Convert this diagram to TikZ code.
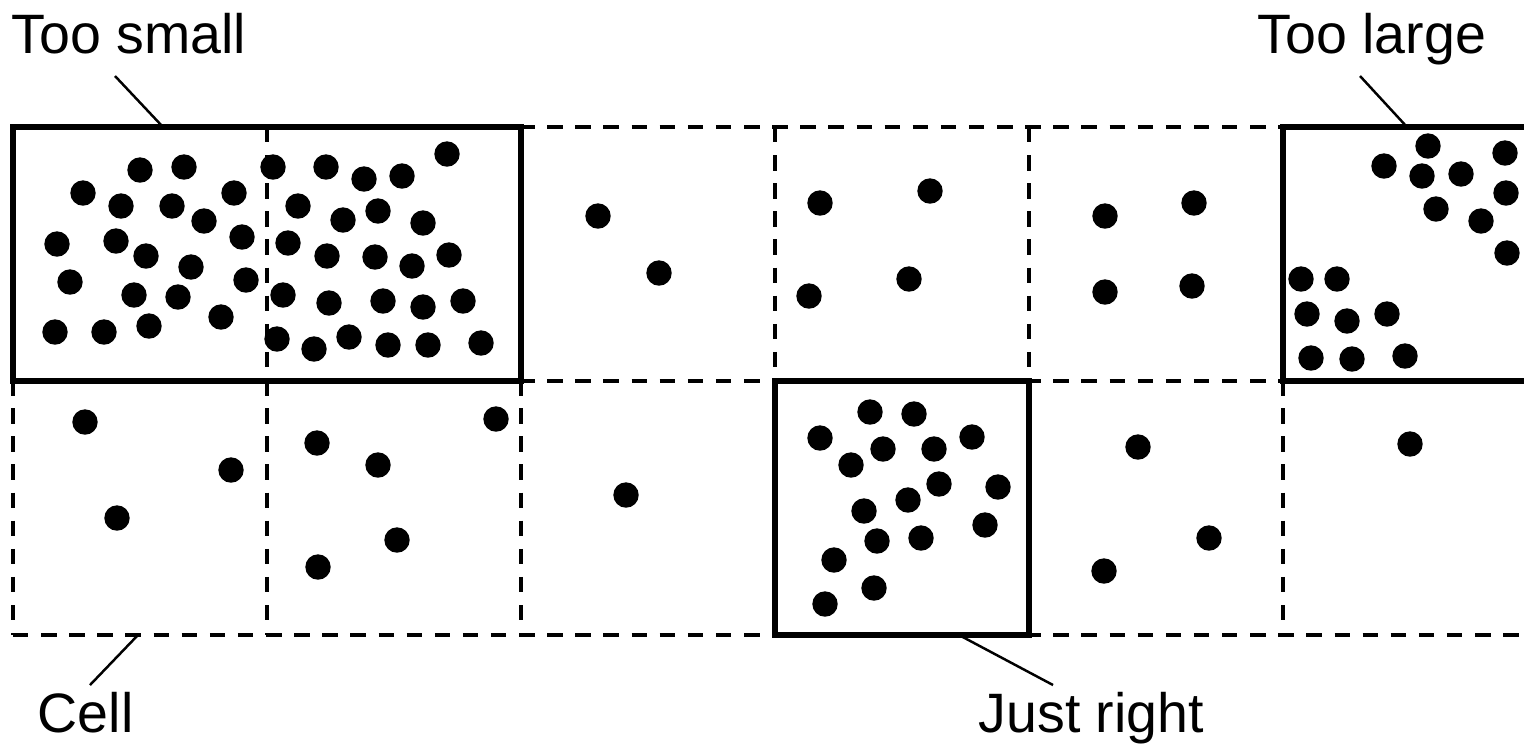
\documentclass[tikz,border=0pt]{standalone}
\usepackage{fontspec}
\setmainfont{Liberation Sans}

\begin{document}
\begin{tikzpicture}[
        x=0.1mm, y=-0.1mm,
        gridline/.style = {line width=0.95pt, dash pattern=on 4.4pt off 3.6pt},
        binbox/.style = {line width=1.65pt},
        leader/.style = {line width=0.7pt},
        particle/.style = {fill=black},
        tag/.style = {anchor=base west, inner sep=0pt, font=\fontsize{15.8}{19}\selectfont}
    ]

    \useasboundingbox (0,0) rectangle (1524,749);
    \clip (0,0) rectangle (1524,749);

    % dashed cells
    \foreach \x in {13,267,521,775,1029,1283}
        \draw[gridline] (\x,127) -- (\x,635);
    \foreach \y in {127,381,635}
        \draw[gridline] (13,\y) -- (1524,\y);

    % particles, top row
    \foreach \p in {(140,170),(184,167),(83,193),(121,206),(172,206),(234,193),(204,221),
                    (57,244),(116,241),(146,256),(242,237),(191,267),(70,282),(134,295),
                    (178,297),(246,280),(221,317),(55,332),(104,332),(149,326),
                    (273,167),(326,167),(364,179),(402,176),(447,154),(298,206),(343,220),
                    (378,211),(423,223),(288,243),(327,256),(375,257),(412,266),(449,255),
                    (283,295),(329,303),(383,301),(423,307),(463,301),(277,339),(314,349),
                    (349,337),(388,345),(428,345),(481,343)}
        \fill[particle] \p circle[radius=1.27mm];
    \foreach \p in {(598,216),(659,273),
                    (820,203),(930,191),(809,296),(909,279),
                    (1105,216),(1194,203),(1105,292),(1192,286),
                    (1384,166),(1428,146),(1422,176),(1461,174),(1505,153),(1506,193),
                    (1436,209),(1481,221),(1507,253),(1301,279),(1337,279),(1307,314),
                    (1347,321),(1387,314),(1311,358),(1352,359),(1405,356)}
        \fill[particle] \p circle[radius=1.27mm];

    % particles, bottom row
    \foreach \p in {(85,422),(231,470),(117,518),
                    (496,419),(317,443),(378,465),(397,540),(318,567),
                    (626,495),
                    (870,412),(914,414),(820,438),(883,449),(934,449),(972,437),
                    (851,465),(939,484),(998,487),(908,500),(864,511),(985,525),
                    (877,541),(921,538),(834,560),(874,588),(825,604),
                    (1138,447),(1209,538),(1104,571),
                    (1410,444)}
        \fill[particle] \p circle[radius=1.27mm];

    % bins
    \draw[binbox] (13,127) rectangle (521,381);
    \draw[binbox] (775,381) rectangle (1029,635);
    \draw[binbox] (1283,127) rectangle (1540,381);

    % labels
    \node[tag] (small) at (11,53) {Too small};
    \node[tag] (large) at (1257,53) {Too large};
    \node[tag] (cell) at (37,732) {Cell};
    \node[tag] (right) at (978,732) {Just right};

    \coordinate (small-a) at (115,76);
    \coordinate (small-b) at (163,127);
    \coordinate (large-a) at (1360,76);
    \coordinate (large-b) at (1407,127);
    \coordinate (cell-a) at (90,685);
    \coordinate (cell-b) at (138,635);
    \coordinate (right-a) at (1053,685);
    \coordinate (right-b) at (959,635);

    \draw[leader] (small-a) -- (small-b);
    \draw[leader] (large-a) -- (large-b);
    \draw[leader] (cell-a) -- (cell-b);
    \draw[leader] (right-a) -- (right-b);

\end{tikzpicture}
\end{document}
